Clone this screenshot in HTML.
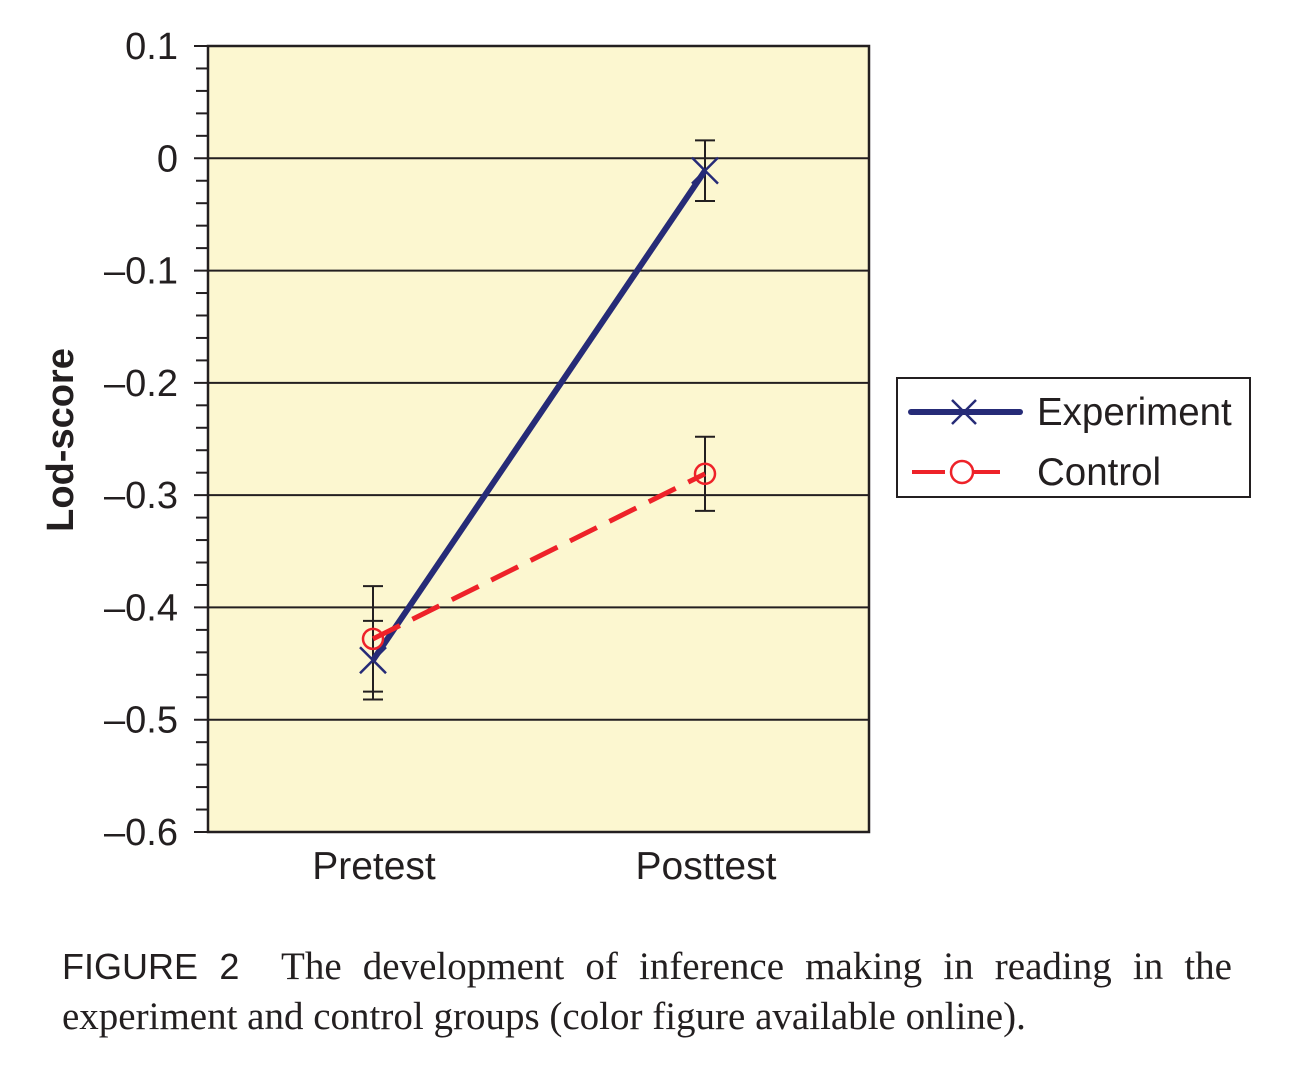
<!DOCTYPE html>
<html><head><meta charset="utf-8"><style>
body{margin:0;background:#fff;width:1306px;height:1076px;overflow:hidden;position:relative}
.cap{position:absolute;left:62px;width:1170px;font-family:"Liberation Serif",serif;font-size:39px;color:#231f20;text-align:justify;text-align-last:justify;line-height:50px;white-space:nowrap}
</style></head><body>
<svg width="1306" height="940" style="position:absolute;left:0;top:0" font-family="Liberation Sans, sans-serif">
<g id="g"></g>
</svg>
<div class="cap" style="top:942px;white-space:normal"><span style="font-family:'Liberation Sans',sans-serif;font-size:36px">FIGURE 2</span>&nbsp; The development of inference making in reading in the</div>
<div class="cap" style="top:992px;text-align-last:left">experiment and control groups (color figure available online).</div>
<script>
const categories=["Pretest","Posttest"];
const expValues=[-0.447,-0.011];
const expErr=[0.035,0.027];
const ctlValues=[-0.428,-0.281];
const ctlErr=[0.047,0.033];
const yTicks=[0.1,0,-0.1,-0.2,-0.3,-0.4,-0.5,-0.6];
const yTickLabels=["0.1","0","\u20130.1","\u20130.2","\u20130.3","\u20130.4","\u20130.5","\u20130.6"];
const L=208,R=869,T=46,B=832;
const y=v=>T+(0.1-v)/0.7*(B-T);
const x=i=>[373,705][i];
const g=document.getElementById('g');
const NS='http://www.w3.org/2000/svg';
function el(t,a,p){const e=document.createElementNS(NS,t);for(const k in a)e.setAttribute(k,a[k]);(p||g).appendChild(e);return e;}
let e=el('rect',{x:L,y:T,width:R-L,height:B-T,fill:'#fcf7d0'});


yTicks.forEach((v,i)=>{
 let l=el('line',{x1:L-14,x2:R,y1:y(v),y2:y(v),stroke:'#231f20','stroke-width':2});
 
 
 let t=el('text',{x:L-30,y:y(v)+13,'text-anchor':'end','font-size':38,fill:'#231f20'});
 t.textContent=yTickLabels[i];
 
 
 if(i<yTicks.length-1)for(let k=1;k<5;k++){let m=el('line',{x1:L-12,x2:L,y1:y(v-k*0.02),y2:y(v-k*0.02),stroke:'#231f20','stroke-width':2});
 
 }
});
e=el('rect',{x:L,y:T,width:R-L,height:B-T,fill:'none',stroke:'#231f20','stroke-width':2.5});


categories.forEach((c,i)=>{let t=el('text',{x:x(i)+1,y:879,'text-anchor':'middle','font-size':39,fill:'#231f20'});t.textContent=c;
 
 });
e=el('text',{transform:'translate(73,440) rotate(-90)','text-anchor':'middle','font-size':38,'font-weight':'bold',fill:'#231f20'});
e.textContent='Lod-score';


function errbars(vals,errs,name){vals.forEach((v,i)=>{const X=x(i);
 let gg=el('g',{stroke:'#231f20','stroke-width':2});
 
 
 el('line',{x1:X,x2:X,y1:y(v+errs[i]),y2:y(v-errs[i])},gg);
 el('line',{x1:X-10,x2:X+10,y1:y(v+errs[i]),y2:y(v+errs[i])},gg);
 el('line',{x1:X-10,x2:X+10,y1:y(v-errs[i]),y2:y(v-errs[i])},gg);});}
errbars(expValues,expErr,'experiment');
errbars(ctlValues,ctlErr,'control');
e=el('polyline',{points:expValues.map((v,i)=>x(i)+','+y(v)).join(' '),fill:'none',stroke:'#262b77','stroke-width':6});


expValues.forEach((v,i)=>{let p=el('path',{d:`M${x(i)-13},${y(v)-13}L${x(i)+13},${y(v)+13}M${x(i)-13},${y(v)+13}L${x(i)+13},${y(v)-13}`,stroke:'#262b77','stroke-width':2.5});
 
 });
e=el('polyline',{points:ctlValues.map((v,i)=>x(i)+','+y(v)).join(' '),fill:'none',stroke:'#ee2229','stroke-width':5,'stroke-dasharray':'30,14'});


ctlValues.forEach((v,i)=>{let c=el('circle',{cx:x(i),cy:y(v),r:10,fill:'none',stroke:'#ee2229','stroke-width':2.5});
 
 });
let lg=el('g',{});


el('rect',{x:897,y:378,width:353,height:119,fill:'#fff',stroke:'#231f20','stroke-width':2},lg);
el('line',{x1:911,x2:1020,y1:412,y2:412,stroke:'#262b77','stroke-width':6,'stroke-linecap':'round'},lg);
el('path',{d:'M952,400L976,424M952,424L976,400',stroke:'#262b77','stroke-width':2.5},lg);
el('line',{x1:912,x2:945,y1:472,y2:472,stroke:'#ee2229','stroke-width':4},lg);
el('line',{x1:962,x2:1000,y1:472,y2:472,stroke:'#ee2229','stroke-width':4},lg);
el('circle',{cx:962,cy:472,r:11,fill:'#fff',stroke:'#ee2229','stroke-width':2.5},lg);
let t1=el('text',{x:1037,y:425,'font-size':38.5,fill:'#231f20'},lg);t1.textContent='Experiment';


let t2=el('text',{x:1037,y:485,'font-size':38.5,fill:'#231f20'},lg);t2.textContent='Control';


</script>
</body></html>
